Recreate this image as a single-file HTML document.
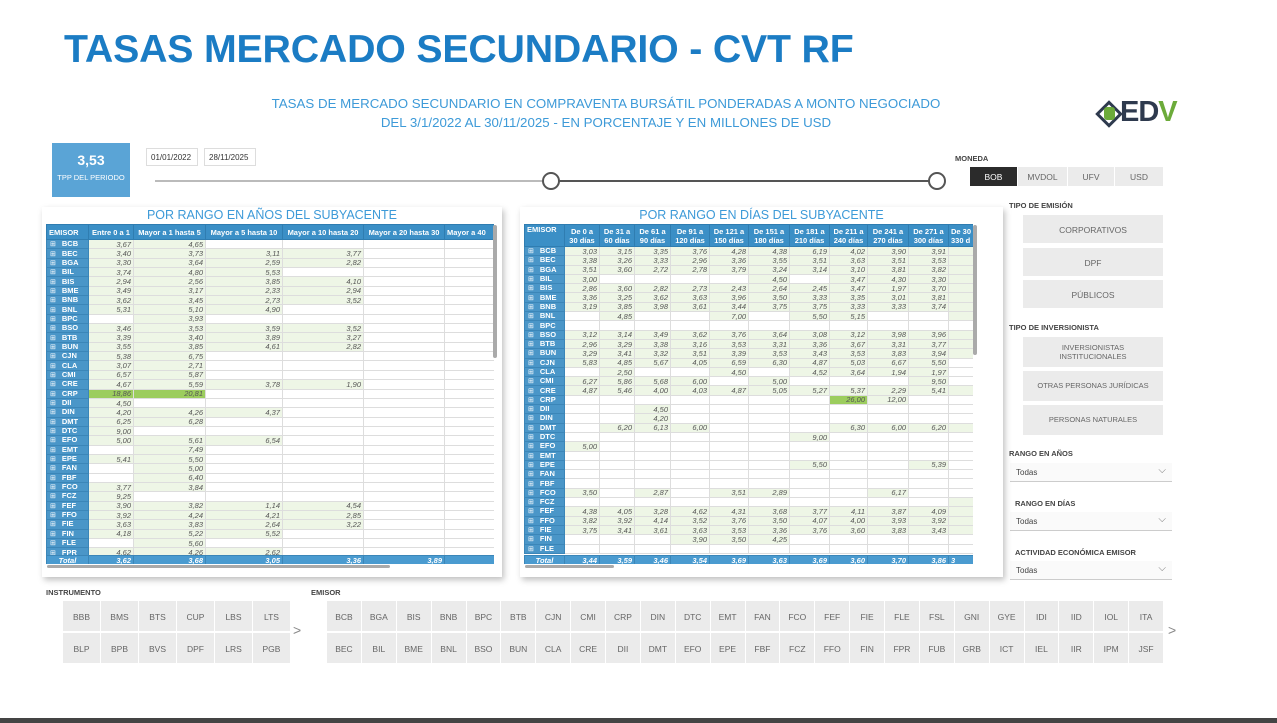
<!DOCTYPE html>
<html><head><meta charset="utf-8">
<style>
*{margin:0;padding:0;box-sizing:border-box}
body{width:1277px;height:723px;background:#fff;position:relative;overflow:hidden;font-family:"Liberation Sans",sans-serif;color:#444}
.a{position:absolute}
.title{left:64px;top:27px;font-size:39.3px;font-weight:bold;color:#1b7cc4;letter-spacing:-0.2px}
.sub{left:200px;width:812px;text-align:center;font-size:13.3px;color:#3d9ad8}
.panel{background:#fff;box-shadow:2px 3px 6px rgba(0,0,0,.25)}
.ptitle{font-size:12.5px;color:#3d9ad8;text-align:center;width:100%}
table{border-collapse:collapse;table-layout:fixed;position:absolute}
td{font-size:7.5px;font-style:italic;color:#555;text-align:right;padding:0 2px;border:1px solid #ddd;white-space:nowrap;overflow:hidden;height:9.35px;line-height:7px}
#L tr{height:9.35px}
#R tr{height:9.3px}
#R td{height:9.3px}
td.e{background:#4a96c8;color:#fff;font-weight:bold;font-style:normal;text-align:left;border-color:#3b86b8;padding-left:3px}
td.e::before{content:"⊞";font-weight:normal;margin-right:6px;font-size:7px}
td.g{background:#eef6e6}
td.b{background:#9ccd5e}
tr.h td{background:#3b8fc6;color:#fff;font-weight:bold;font-style:normal;text-align:center;border-color:#2f7db1;line-height:9px}
tr.t td{background:#4a9bd0;color:#fff;font-weight:bold;border-color:#3b86b8}
.btn{position:absolute;background:#ebebeb;color:#666;font-size:8.5px;text-align:center}
.lbl{position:absolute;font-size:7.5px;font-weight:bold;color:#444}
.dd{position:absolute;left:1010px;width:162px;height:19px;border-bottom:1px solid #ccc;background:#fafafa;font-size:8px;color:#444;padding:5px 0 0 6px}
.dd::after{content:"⌵";position:absolute;right:6px;top:2px;font-size:10px;color:#777}
.x{flex:1;background:#ebebeb;text-align:center;padding-top:11px}
</style></head><body>
<div class="a title">TASAS MERCADO SECUNDARIO - CVT RF</div>
<div class="a sub" style="top:96px">TASAS DE MERCADO SECUNDARIO EN COMPRAVENTA BURSÁTIL PONDERADAS A MONTO NEGOCIADO</div>
<div class="a sub" style="top:115px">DEL 3/1/2022 AL 30/11/2025 - EN PORCENTAJE Y EN MILLONES DE USD</div>

<div class="a" style="left:1096px;top:101px;width:26px;height:26px;border:4px solid #2e3a4e;transform:rotate(45deg) scale(.75);background:#fff"></div>
<div class="a" style="left:1104px;top:107px;width:11px;height:13px;background:#6cab3a;border-radius:3px"></div>
<div class="a" style="left:1120px;top:96px;font-size:29px;font-weight:bold;color:#2e3a4e;letter-spacing:-1px">ED<span style="color:#6cab3a">V</span></div>

<div class="a" style="left:52px;top:143px;width:78px;height:54px;background:#5aa4d6;color:#fff;text-align:center">
<div style="font-size:14px;font-weight:bold;margin-top:9px">3,53</div>
<div style="font-size:7.5px;margin-top:5px">TPP DEL PERIODO</div></div>
<div class="a" style="left:146px;top:148px;width:52px;height:18px;border:1px solid #ddd;font-size:8px;padding:4px 0 0 4px;color:#333">01/01/2022</div>
<div class="a" style="left:204px;top:148px;width:52px;height:18px;border:1px solid #ddd;font-size:8px;padding:4px 0 0 4px;color:#333">28/11/2025</div>
<div class="a" style="left:155px;top:180px;width:785px;height:2px;background:#bbb"></div>
<div class="a" style="left:551px;top:180px;width:385px;height:2px;background:#555"></div>
<div class="a" style="left:542px;top:172px;width:18px;height:18px;border:2px solid #555;border-radius:50%;background:#fff"></div>
<div class="a" style="left:928px;top:172px;width:18px;height:18px;border:2px solid #555;border-radius:50%;background:#fff"></div>

<div class="lbl" style="left:955px;top:154px">MONEDA</div>
<div class="btn" style="left:970px;top:167px;width:47px;height:19px;background:#2b2b2b;color:#fff;padding-top:5px">BOB</div>
<div class="btn" style="left:1018px;top:167px;width:49px;height:19px;padding-top:5px">MVDOL</div>
<div class="btn" style="left:1068px;top:167px;width:46px;height:19px;padding-top:5px">UFV</div>
<div class="btn" style="left:1115px;top:167px;width:48px;height:19px;padding-top:5px">USD</div>

<div class="lbl" style="left:1009px;top:201px">TIPO DE EMISIÓN</div>
<div class="btn" style="left:1023px;top:215px;width:140px;height:28px;padding-top:10px">CORPORATIVOS</div>
<div class="btn" style="left:1023px;top:248px;width:140px;height:28px;padding-top:10px">DPF</div>
<div class="btn" style="left:1023px;top:280px;width:140px;height:28px;padding-top:10px">PÚBLICOS</div>
<div class="lbl" style="left:1009px;top:323px">TIPO DE INVERSIONISTA</div>
<div class="btn" style="left:1023px;top:337px;width:140px;height:30px;padding-top:6px;font-size:7.5px;line-height:9px">INVERSIONISTAS<br>INSTITUCIONALES</div>
<div class="btn" style="left:1023px;top:371px;width:140px;height:30px;padding-top:10px;font-size:7.5px">OTRAS PERSONAS JURÍDICAS</div>
<div class="btn" style="left:1023px;top:405px;width:140px;height:30px;padding-top:10px;font-size:7.5px">PERSONAS NATURALES</div>
<div class="lbl" style="left:1009px;top:449px">RANGO EN AÑOS</div>
<div class="dd" style="top:463px">Todas</div>
<div class="lbl" style="left:1015px;top:499px">RANGO EN DÍAS</div>
<div class="dd" style="top:512px">Todas</div>
<div class="lbl" style="left:1015px;top:548px">ACTIVIDAD ECONÓMICA EMISOR</div>
<div class="dd" style="top:561px">Todas</div>

<div class="a panel" style="left:42px;top:207px;width:460px;height:370px">
<div class="ptitle" style="margin-top:1px">POR RANGO EN AÑOS DEL SUBYACENTE</div>
<div style="position:absolute;left:4px;top:17px;width:448px;height:340px;overflow:hidden">
<table id="L" style="left:0;top:0;width:455px">
<colgroup><col style="width:42px"><col style="width:45px"><col style="width:72px"><col style="width:77px"><col style="width:81px"><col style="width:81px"><col style="width:57px"></colgroup>
<tr class="h" style="height:15px"><td style="text-align:left;height:15px">EMISOR</td><td>Entre 0 a 1</td><td>Mayor a 1 hasta 5</td><td>Mayor a 5 hasta 10</td><td>Mayor a 10 hasta 20</td><td>Mayor a 20 hasta 30</td><td style="text-align:left">Mayor a 40</td></tr>
<tr><td class="e">BCB</td><td class="g">3,67</td><td class="g">4,65</td><td></td><td></td><td></td><td></td></tr>
<tr><td class="e">BEC</td><td class="g">3,40</td><td class="g">3,73</td><td class="g">3,11</td><td class="g">3,77</td><td></td><td></td></tr>
<tr><td class="e">BGA</td><td class="g">3,30</td><td class="g">3,64</td><td class="g">2,59</td><td class="g">2,82</td><td></td><td></td></tr>
<tr><td class="e">BIL</td><td class="g">3,74</td><td class="g">4,80</td><td class="g">5,53</td><td></td><td></td><td></td></tr>
<tr><td class="e">BIS</td><td class="g">2,94</td><td class="g">2,56</td><td class="g">3,85</td><td class="g">4,10</td><td></td><td></td></tr>
<tr><td class="e">BME</td><td class="g">3,49</td><td class="g">3,17</td><td class="g">2,33</td><td class="g">2,94</td><td></td><td></td></tr>
<tr><td class="e">BNB</td><td class="g">3,62</td><td class="g">3,45</td><td class="g">2,73</td><td class="g">3,52</td><td></td><td></td></tr>
<tr><td class="e">BNL</td><td class="g">5,31</td><td class="g">5,10</td><td class="g">4,90</td><td></td><td></td><td></td></tr>
<tr><td class="e">BPC</td><td></td><td class="g">3,93</td><td></td><td></td><td></td><td></td></tr>
<tr><td class="e">BSO</td><td class="g">3,46</td><td class="g">3,53</td><td class="g">3,59</td><td class="g">3,52</td><td></td><td></td></tr>
<tr><td class="e">BTB</td><td class="g">3,39</td><td class="g">3,40</td><td class="g">3,89</td><td class="g">3,27</td><td></td><td></td></tr>
<tr><td class="e">BUN</td><td class="g">3,55</td><td class="g">3,85</td><td class="g">4,61</td><td class="g">2,82</td><td></td><td></td></tr>
<tr><td class="e">CJN</td><td class="g">5,38</td><td class="g">6,75</td><td></td><td></td><td></td><td></td></tr>
<tr><td class="e">CLA</td><td class="g">3,07</td><td class="g">2,71</td><td></td><td></td><td></td><td></td></tr>
<tr><td class="e">CMI</td><td class="g">6,57</td><td class="g">5,87</td><td></td><td></td><td></td><td></td></tr>
<tr><td class="e">CRE</td><td class="g">4,67</td><td class="g">5,59</td><td class="g">3,78</td><td class="g">1,90</td><td></td><td></td></tr>
<tr><td class="e">CRP</td><td class="b">18,86</td><td class="b">20,81</td><td></td><td></td><td></td><td></td></tr>
<tr><td class="e">DII</td><td class="g">4,50</td><td></td><td></td><td></td><td></td><td></td></tr>
<tr><td class="e">DIN</td><td class="g">4,20</td><td class="g">4,26</td><td class="g">4,37</td><td></td><td></td><td></td></tr>
<tr><td class="e">DMT</td><td class="g">6,25</td><td class="g">6,28</td><td></td><td></td><td></td><td></td></tr>
<tr><td class="e">DTC</td><td class="g">9,00</td><td></td><td></td><td></td><td></td><td></td></tr>
<tr><td class="e">EFO</td><td class="g">5,00</td><td class="g">5,61</td><td class="g">6,54</td><td></td><td></td><td></td></tr>
<tr><td class="e">EMT</td><td></td><td class="g">7,49</td><td></td><td></td><td></td><td></td></tr>
<tr><td class="e">EPE</td><td class="g">5,41</td><td class="g">5,50</td><td></td><td></td><td></td><td></td></tr>
<tr><td class="e">FAN</td><td></td><td class="g">5,00</td><td></td><td></td><td></td><td></td></tr>
<tr><td class="e">FBF</td><td></td><td class="g">6,40</td><td></td><td></td><td></td><td></td></tr>
<tr><td class="e">FCO</td><td class="g">3,77</td><td class="g">3,84</td><td></td><td></td><td></td><td></td></tr>
<tr><td class="e">FCZ</td><td class="g">9,25</td><td></td><td></td><td></td><td></td><td></td></tr>
<tr><td class="e">FEF</td><td class="g">3,90</td><td class="g">3,82</td><td class="g">1,14</td><td class="g">4,54</td><td></td><td></td></tr>
<tr><td class="e">FFO</td><td class="g">3,92</td><td class="g">4,24</td><td class="g">4,21</td><td class="g">2,85</td><td></td><td></td></tr>
<tr><td class="e">FIE</td><td class="g">3,63</td><td class="g">3,83</td><td class="g">2,64</td><td class="g">3,22</td><td></td><td></td></tr>
<tr><td class="e">FIN</td><td class="g">4,18</td><td class="g">5,22</td><td class="g">5,52</td><td></td><td></td><td></td></tr>
<tr><td class="e">FLE</td><td></td><td class="g">5,60</td><td></td><td></td><td></td><td></td></tr>
<tr><td class="e">FPR</td><td class="g">4,62</td><td class="g">4,26</td><td class="g">2,62</td><td></td><td></td><td></td></tr>
</table>
<table style="left:0;top:331px;width:455px">
<colgroup><col style="width:42px"><col style="width:45px"><col style="width:72px"><col style="width:77px"><col style="width:81px"><col style="width:81px"><col style="width:57px"></colgroup>
<tr class="t"><td style="text-align:center">Total</td><td>3,62</td><td>3,68</td><td>3,05</td><td>3,36</td><td>3,89</td><td></td></tr>
</table>
</div>
<div class="a" style="left:5px;top:358px;width:343px;height:3px;background:#aaa;border-radius:2px"></div>
<div class="a" style="left:451px;top:18px;width:4px;height:133px;background:#aaa;border-radius:2px"></div>
</div>

<div class="a panel" style="left:520px;top:207px;width:483px;height:370px">
<div class="ptitle" style="margin-top:1px">POR RANGO EN DÍAS DEL SUBYACENTE</div>
<div style="position:absolute;left:4px;top:17px;width:449px;height:340px;overflow:hidden">
<table id="R" style="left:0;top:0;width:470px">
<colgroup><col style="width:40px"><col style="width:35px"><col style="width:35px"><col style="width:36px"><col style="width:39px"><col style="width:39px"><col style="width:41px"><col style="width:40px"><col style="width:38px"><col style="width:41px"><col style="width:40px"><col style="width:46px"></colgroup>
<tr class="h" style="height:22px"><td style="text-align:left;vertical-align:top;height:22px">EMISOR</td><td>De 0 a<br>30 días</td><td>De 31 a<br>60 días</td><td>De 61 a<br>90 días</td><td>De 91 a<br>120 días</td><td>De 121 a<br>150 días</td><td>De 151 a<br>180 días</td><td>De 181 a<br>210 días</td><td>De 211 a<br>240 días</td><td>De 241 a<br>270 días</td><td>De 271 a<br>300 días</td><td style="text-align:left">De 30<br>330 d</td></tr>
<tr><td class="e">BCB</td><td class="g">3,03</td><td class="g">3,15</td><td class="g">3,35</td><td class="g">3,76</td><td class="g">4,28</td><td class="g">4,38</td><td class="g">6,19</td><td class="g">4,02</td><td class="g">3,90</td><td class="g">3,91</td><td class="g">4</td></tr>
<tr><td class="e">BEC</td><td class="g">3,38</td><td class="g">3,26</td><td class="g">3,33</td><td class="g">2,96</td><td class="g">3,36</td><td class="g">3,55</td><td class="g">3,51</td><td class="g">3,63</td><td class="g">3,51</td><td class="g">3,53</td><td class="g">3</td></tr>
<tr><td class="e">BGA</td><td class="g">3,51</td><td class="g">3,60</td><td class="g">2,72</td><td class="g">2,78</td><td class="g">3,79</td><td class="g">3,24</td><td class="g">3,14</td><td class="g">3,10</td><td class="g">3,81</td><td class="g">3,82</td><td class="g">3</td></tr>
<tr><td class="e">BIL</td><td class="g">3,00</td><td></td><td></td><td></td><td></td><td class="g">4,50</td><td></td><td class="g">3,47</td><td class="g">4,30</td><td class="g">3,30</td><td class="g">3</td></tr>
<tr><td class="e">BIS</td><td class="g">2,86</td><td class="g">3,60</td><td class="g">2,82</td><td class="g">2,73</td><td class="g">2,43</td><td class="g">2,64</td><td class="g">2,45</td><td class="g">3,47</td><td class="g">1,97</td><td class="g">3,70</td><td class="g">3</td></tr>
<tr><td class="e">BME</td><td class="g">3,36</td><td class="g">3,25</td><td class="g">3,62</td><td class="g">3,63</td><td class="g">3,96</td><td class="g">3,50</td><td class="g">3,33</td><td class="g">3,35</td><td class="g">3,01</td><td class="g">3,81</td><td class="g">3</td></tr>
<tr><td class="e">BNB</td><td class="g">3,19</td><td class="g">3,85</td><td class="g">3,98</td><td class="g">3,61</td><td class="g">3,44</td><td class="g">3,75</td><td class="g">3,75</td><td class="g">3,33</td><td class="g">3,33</td><td class="g">3,74</td><td class="g">3</td></tr>
<tr><td class="e">BNL</td><td></td><td class="g">4,85</td><td></td><td></td><td class="g">7,00</td><td></td><td class="g">5,50</td><td class="g">5,15</td><td></td><td></td><td class="g">5</td></tr>
<tr><td class="e">BPC</td><td></td><td></td><td></td><td></td><td></td><td></td><td></td><td></td><td></td><td></td><td></td></tr>
<tr><td class="e">BSO</td><td class="g">3,12</td><td class="g">3,14</td><td class="g">3,49</td><td class="g">3,62</td><td class="g">3,76</td><td class="g">3,64</td><td class="g">3,08</td><td class="g">3,12</td><td class="g">3,98</td><td class="g">3,96</td><td class="g">3</td></tr>
<tr><td class="e">BTB</td><td class="g">2,96</td><td class="g">3,29</td><td class="g">3,38</td><td class="g">3,16</td><td class="g">3,53</td><td class="g">3,31</td><td class="g">3,36</td><td class="g">3,67</td><td class="g">3,31</td><td class="g">3,77</td><td class="g">3</td></tr>
<tr><td class="e">BUN</td><td class="g">3,29</td><td class="g">3,41</td><td class="g">3,32</td><td class="g">3,51</td><td class="g">3,39</td><td class="g">3,53</td><td class="g">3,43</td><td class="g">3,53</td><td class="g">3,83</td><td class="g">3,94</td><td class="g">3</td></tr>
<tr><td class="e">CJN</td><td class="g">5,83</td><td class="g">4,85</td><td class="g">5,67</td><td class="g">4,05</td><td class="g">6,59</td><td class="g">6,30</td><td class="g">4,87</td><td class="g">5,03</td><td class="g">6,67</td><td class="g">5,50</td><td></td></tr>
<tr><td class="e">CLA</td><td></td><td class="g">2,50</td><td></td><td></td><td class="g">4,50</td><td></td><td class="g">4,52</td><td class="g">3,64</td><td class="g">1,94</td><td class="g">1,97</td><td>1</td></tr>
<tr><td class="e">CMI</td><td class="g">6,27</td><td class="g">5,86</td><td class="g">5,68</td><td class="g">6,00</td><td></td><td class="g">5,00</td><td></td><td></td><td></td><td class="g">9,50</td><td></td></tr>
<tr><td class="e">CRE</td><td class="g">4,87</td><td class="g">5,46</td><td class="g">4,00</td><td class="g">4,03</td><td class="g">4,87</td><td class="g">5,05</td><td class="g">5,27</td><td class="g">5,37</td><td class="g">2,29</td><td class="g">5,41</td><td class="g">5</td></tr>
<tr><td class="e">CRP</td><td></td><td></td><td></td><td></td><td></td><td></td><td></td><td class="b">26,00</td><td class="g">12,00</td><td></td><td></td></tr>
<tr><td class="e">DII</td><td></td><td></td><td class="g">4,50</td><td></td><td></td><td></td><td></td><td></td><td></td><td></td><td></td></tr>
<tr><td class="e">DIN</td><td></td><td></td><td class="g">4,20</td><td></td><td></td><td></td><td></td><td></td><td></td><td></td><td></td></tr>
<tr><td class="e">DMT</td><td></td><td class="g">6,20</td><td class="g">6,13</td><td class="g">6,00</td><td></td><td></td><td></td><td class="g">6,30</td><td class="g">6,00</td><td class="g">6,20</td><td class="g">6</td></tr>
<tr><td class="e">DTC</td><td></td><td></td><td></td><td></td><td></td><td></td><td class="g">9,00</td><td></td><td></td><td></td><td></td></tr>
<tr><td class="e">EFO</td><td class="g">5,00</td><td></td><td></td><td></td><td></td><td></td><td></td><td></td><td></td><td></td><td></td></tr>
<tr><td class="e">EMT</td><td></td><td></td><td></td><td></td><td></td><td></td><td></td><td></td><td></td><td></td><td></td></tr>
<tr><td class="e">EPE</td><td></td><td></td><td></td><td></td><td></td><td></td><td class="g">5,50</td><td></td><td></td><td class="g">5,39</td><td></td></tr>
<tr><td class="e">FAN</td><td></td><td></td><td></td><td></td><td></td><td></td><td></td><td></td><td></td><td></td><td></td></tr>
<tr><td class="e">FBF</td><td></td><td></td><td></td><td></td><td></td><td></td><td></td><td></td><td></td><td></td><td></td></tr>
<tr><td class="e">FCO</td><td class="g">3,50</td><td></td><td class="g">2,87</td><td></td><td class="g">3,51</td><td class="g">2,89</td><td></td><td></td><td class="g">6,17</td><td></td><td></td></tr>
<tr><td class="e">FCZ</td><td></td><td></td><td></td><td></td><td></td><td></td><td></td><td></td><td></td><td></td><td class="g">9</td></tr>
<tr><td class="e">FEF</td><td class="g">4,38</td><td class="g">4,05</td><td class="g">3,28</td><td class="g">4,62</td><td class="g">4,31</td><td class="g">3,68</td><td class="g">3,77</td><td class="g">4,11</td><td class="g">3,87</td><td class="g">4,09</td><td class="g">2</td></tr>
<tr><td class="e">FFO</td><td class="g">3,82</td><td class="g">3,92</td><td class="g">4,14</td><td class="g">3,52</td><td class="g">3,76</td><td class="g">3,50</td><td class="g">4,07</td><td class="g">4,00</td><td class="g">3,93</td><td class="g">3,92</td><td class="g">4</td></tr>
<tr><td class="e">FIE</td><td class="g">3,75</td><td class="g">3,41</td><td class="g">3,61</td><td class="g">3,63</td><td class="g">3,53</td><td class="g">3,36</td><td class="g">3,76</td><td class="g">3,60</td><td class="g">3,83</td><td class="g">3,43</td><td class="g">3</td></tr>
<tr><td class="e">FIN</td><td></td><td></td><td></td><td class="g">3,90</td><td class="g">3,50</td><td class="g">4,25</td><td></td><td></td><td></td><td></td><td></td></tr>
<tr><td class="e">FLE</td><td></td><td></td><td></td><td></td><td></td><td></td><td></td><td></td><td></td><td></td><td></td></tr>
</table>
<table style="left:0;top:331px;width:470px">
<colgroup><col style="width:40px"><col style="width:35px"><col style="width:35px"><col style="width:36px"><col style="width:39px"><col style="width:39px"><col style="width:41px"><col style="width:40px"><col style="width:38px"><col style="width:41px"><col style="width:40px"><col style="width:46px"></colgroup>
<tr class="t"><td style="text-align:center">Total</td><td>3,44</td><td>3,59</td><td>3,46</td><td>3,54</td><td>3,69</td><td>3,63</td><td>3,69</td><td>3,60</td><td>3,70</td><td>3,86</td><td style="text-align:left">3</td></tr>
</table>
</div>
<div class="a" style="left:5px;top:358px;width:89px;height:3px;background:#aaa;border-radius:2px"></div>
<div class="a" style="left:453px;top:18px;width:4px;height:130px;background:#aaa;border-radius:2px"></div>
</div>

<div class="lbl" style="left:46px;top:588px">INSTRUMENTO</div>
<div class="btn" style="left:63px;top:601px;width:37px;height:30px;padding-top:11px">BBB</div>
<div class="btn" style="left:101px;top:601px;width:37px;height:30px;padding-top:11px">BMS</div>
<div class="btn" style="left:139px;top:601px;width:37px;height:30px;padding-top:11px">BTS</div>
<div class="btn" style="left:177px;top:601px;width:37px;height:30px;padding-top:11px">CUP</div>
<div class="btn" style="left:215px;top:601px;width:37px;height:30px;padding-top:11px">LBS</div>
<div class="btn" style="left:253px;top:601px;width:37px;height:30px;padding-top:11px">LTS</div>
<div class="btn" style="left:63px;top:633px;width:37px;height:30px;padding-top:11px">BLP</div>
<div class="btn" style="left:101px;top:633px;width:37px;height:30px;padding-top:11px">BPB</div>
<div class="btn" style="left:139px;top:633px;width:37px;height:30px;padding-top:11px">BVS</div>
<div class="btn" style="left:177px;top:633px;width:37px;height:30px;padding-top:11px">DPF</div>
<div class="btn" style="left:215px;top:633px;width:37px;height:30px;padding-top:11px">LRS</div>
<div class="btn" style="left:253px;top:633px;width:37px;height:30px;padding-top:11px">PGB</div>
<div class="a" style="left:293px;top:622px;font-size:14px;color:#888">&gt;</div>

<div class="lbl" style="left:311px;top:588px">EMISOR</div>
<div class="a" style="left:327px;top:601px;width:836px;font-size:8.5px;color:#666">
<div style="display:flex;gap:1px;height:30px">
<span class="x">BCB</span><span class="x">BGA</span><span class="x">BIS</span><span class="x">BNB</span><span class="x">BPC</span><span class="x">BTB</span><span class="x">CJN</span><span class="x">CMI</span><span class="x">CRP</span><span class="x">DIN</span><span class="x">DTC</span><span class="x">EMT</span><span class="x">FAN</span><span class="x">FCO</span><span class="x">FEF</span><span class="x">FIE</span><span class="x">FLE</span><span class="x">FSL</span><span class="x">GNI</span><span class="x">GYE</span><span class="x">IDI</span><span class="x">IID</span><span class="x">IOL</span><span class="x">ITA</span></div>
<div style="display:flex;gap:1px;height:30px;margin-top:2px">
<span class="x">BEC</span><span class="x">BIL</span><span class="x">BME</span><span class="x">BNL</span><span class="x">BSO</span><span class="x">BUN</span><span class="x">CLA</span><span class="x">CRE</span><span class="x">DII</span><span class="x">DMT</span><span class="x">EFO</span><span class="x">EPE</span><span class="x">FBF</span><span class="x">FCZ</span><span class="x">FFO</span><span class="x">FIN</span><span class="x">FPR</span><span class="x">FUB</span><span class="x">GRB</span><span class="x">ICT</span><span class="x">IEL</span><span class="x">IIR</span><span class="x">IPM</span><span class="x">JSF</span></div>
</div>
<div class="a" style="left:1168px;top:622px;font-size:14px;color:#888">&gt;</div>

<div class="a" style="left:0;top:718px;width:1277px;height:5px;background:#444"></div>
</body></html>
